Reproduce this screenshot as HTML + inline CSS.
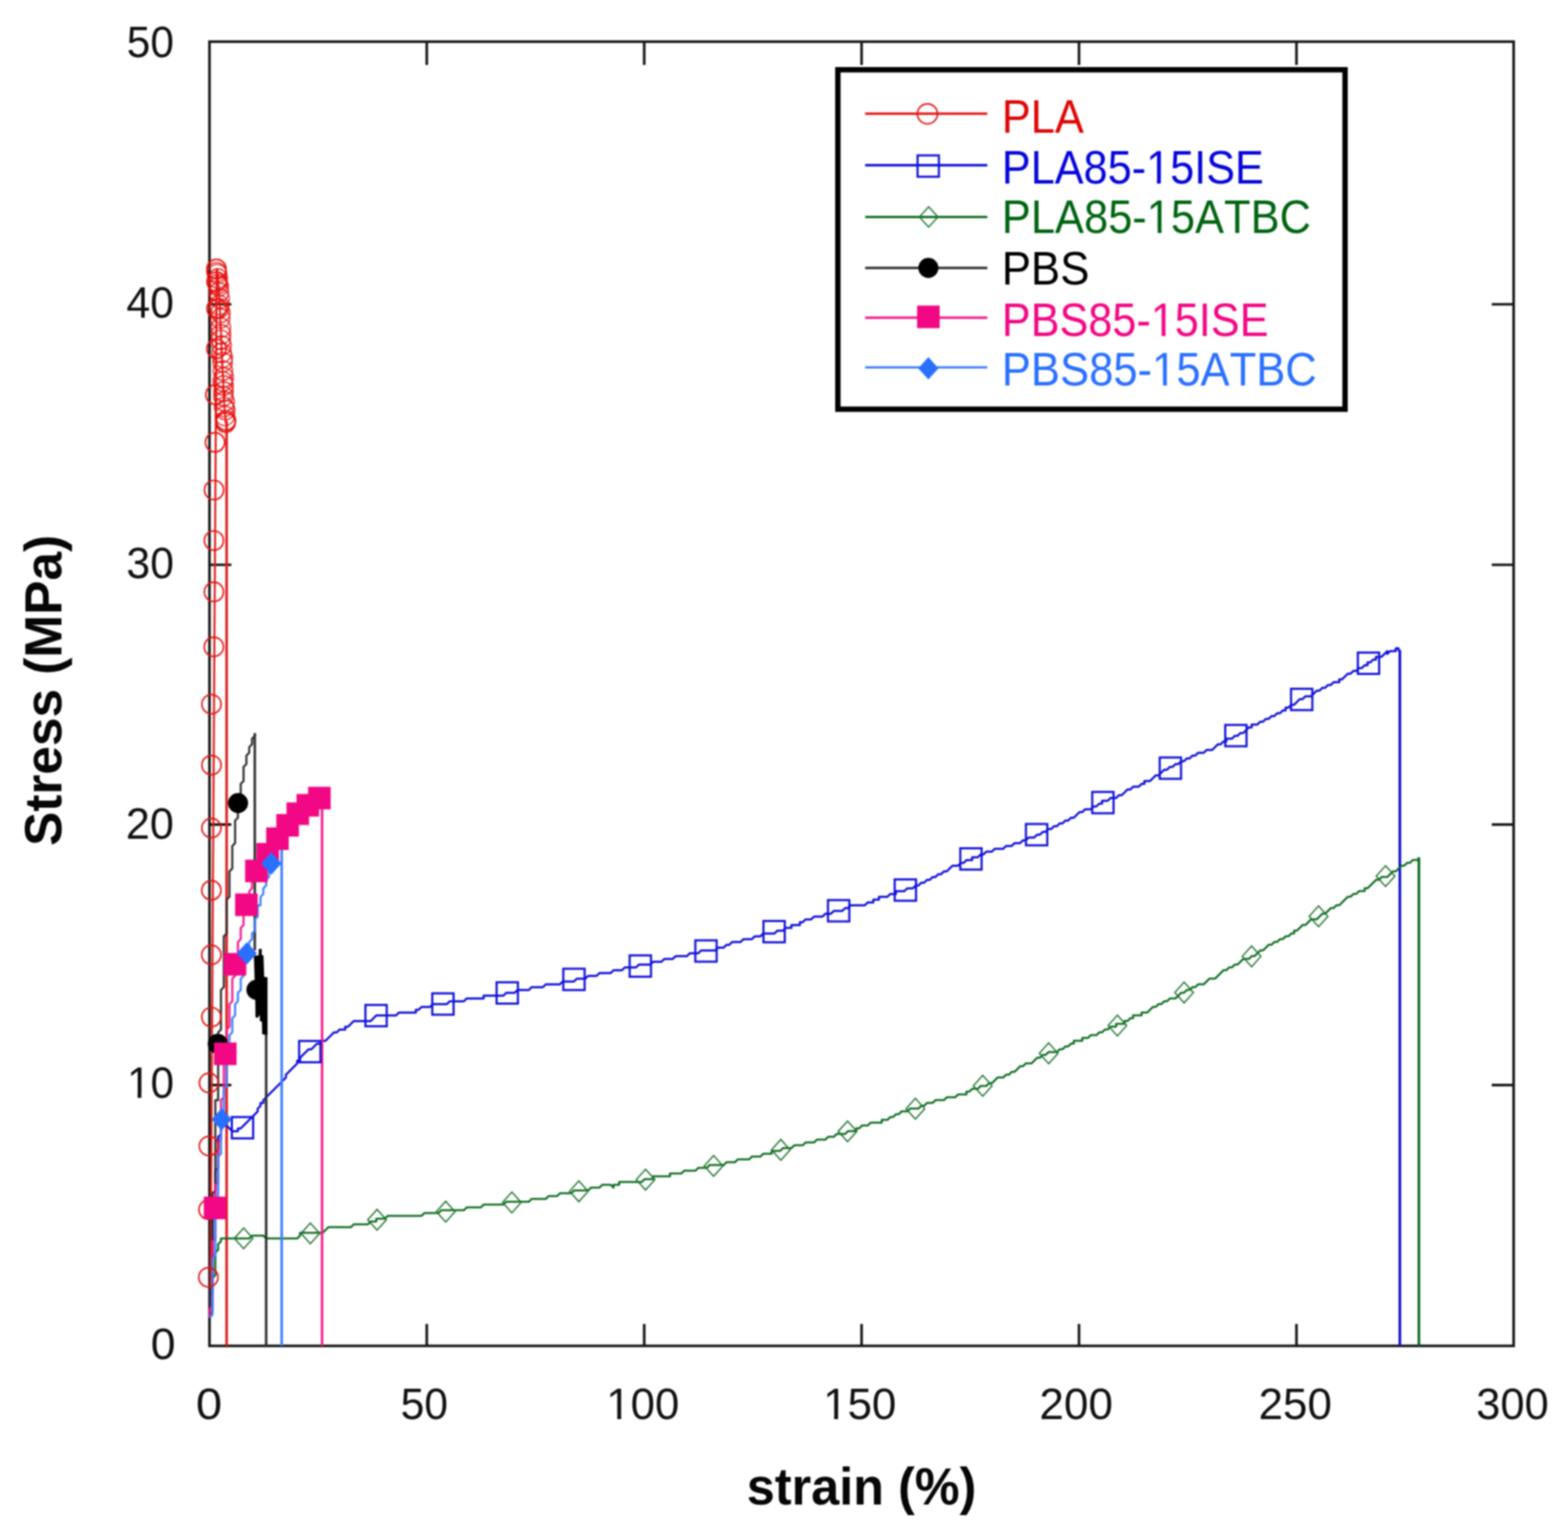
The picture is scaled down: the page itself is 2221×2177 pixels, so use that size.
<!DOCTYPE html>
<html lang="en">
<head>
<meta charset="utf-8">
<title>Stress–strain curves</title>
<style>
html,body{margin:0;padding:0;background:#ffffff;}
body{width:2221px;height:2177px;font-family:"Liberation Sans",Arial,sans-serif;}
svg{display:block;}
</style>
</head>
<body>
<svg width="2221" height="2177" viewBox="0 0 2221 2177">
<defs><filter id="soft" x="0" y="0" width="100%" height="100%" filterUnits="objectBoundingBox" color-interpolation-filters="sRGB"><feGaussianBlur stdDeviation="0.85"/></filter></defs>
<g filter="url(#soft)">
<rect x="0" y="0" width="2221" height="2177" fill="#ffffff"/>
<g id="axes" stroke="#161616" stroke-width="3.7" fill="none" stroke-linecap="butt">
<rect x="296.7" y="59" width="1847.3" height="1847.3"/>
<path d="M604.5 1906.3 V1875.3 M604.5 59 V92 M912.5 1906.3 V1875.3 M912.5 59 V92 M1220.4 1906.3 V1875.3 M1220.4 59 V92 M1528.4 1906.3 V1875.3 M1528.4 59 V92 M1836.4 1906.3 V1875.3 M1836.4 59 V92 M296.7 1536.9 H327.7 M2144 1536.9 H2113 M296.7 1167.9 H327.7 M2144 1167.9 H2113 M296.7 800 H327.7 M2144 800 H2113 M296.7 431 H327.7 M2144 431 H2113"/>
</g>
<g id="ticklabels" font-family="'Liberation Sans', Arial, sans-serif" style="font-kerning:none">
<g transform="translate(277.4 2009.7) scale(1.0560 1.0000)"><text font-size="63.2" fill="#111111">0</text></g>
<g transform="translate(567.4 2009.7) scale(0.9555 1.0000)"><text font-size="63.2" fill="#111111">50</text></g>
<g transform="translate(858.8 2009.7) scale(0.9800 1.0000)"><text font-size="63.2" fill="#111111">100</text><path d="M3.13 -5.82H15.84V1.50H3.13ZM21.53 -5.82H33.75V1.50H21.53Z" fill="#ffffff"/></g>
<g transform="translate(1165.9 2009.7) scale(0.9841 1.0000)"><text font-size="63.2" fill="#111111">150</text><path d="M3.13 -5.82H15.84V1.50H3.13ZM21.53 -5.82H33.75V1.50H21.53Z" fill="#ffffff"/></g>
<g transform="translate(1472.3 2009.7) scale(0.9874 1.0000)"><text font-size="63.2" fill="#111111">200</text></g>
<g transform="translate(1782.7 2009.7) scale(0.9854 1.0000)"><text font-size="63.2" fill="#111111">250</text></g>
<g transform="translate(2091.1 2009.7) scale(0.9723 1.0000)"><text font-size="63.2" fill="#111111">300</text></g>
<g transform="translate(179.5 80.6) scale(0.9509 1.0000)"><text font-size="63.2" fill="#111111">50</text></g>
<g transform="translate(179.1 449.8) scale(0.9569 1.0000)"><text font-size="63.2" fill="#111111">40</text></g>
<g transform="translate(179 819.3) scale(0.9585 1.0000)"><text font-size="63.2" fill="#111111">30</text></g>
<g transform="translate(178.3 1188.4) scale(0.9679 1.0000)"><text font-size="63.2" fill="#111111">20</text></g>
<g transform="translate(179.9 1554.8) scale(0.9457 1.0000)"><text font-size="63.2" fill="#111111">10</text><path d="M3.13 -5.82H15.84V1.50H3.13ZM21.53 -5.82H33.75V1.50H21.53Z" fill="#ffffff"/></g>
<g transform="translate(213.5 1924.7) scale(0.9993 1.0000)"><text font-size="63.2" fill="#111111">0</text></g>
</g>
<g id="titles" font-family="'Liberation Sans', Arial, sans-serif" style="font-kerning:none">
<g transform="translate(1057.7 2130.6) scale(0.9782 1.0100)"><text font-size="73" font-weight="bold" fill="#060606">strain (%)</text></g>
<text transform="translate(87.3 1198.3) rotate(-90) scale(0.9967 1.02)" font-size="73" font-weight="bold" fill="#060606">Stress (MPa)</text>
</g>
<g id="series-lines">
<path d="M297.8 1866 L298.1 1827.9 L298.3 1789.8 L298.6 1751.7 L298.8 1713.6 L299 1675.5 L299.3 1637.4 L299.5 1599.3 L299.7 1561.2 L300 1523.1 L300.2 1485 L300.4 1446.9 L300.7 1408.8 L300.9 1370.7 L301.1 1332.6 L301.4 1294.5 L301.6 1256.4 L301.8 1218.3 L302.1 1180.2 L302.3 1142.1 L302.5 1103.9 L302.8 1065.8 L303 1027.7 L303.2 989.6 L303.5 951.5 L303.7 913.4 L303.9 875.3 L304.2 837.2 L304.4 799.1 L304.7 761 L304.9 722.9 L305.1 684.8 L305.4 646.7 L305.6 608.6 L305.8 570.5 L306.1 532.4 L306.3 494.3 L306.5 456.2 L306.8 418.1 L307 380" fill="none" stroke="#e21a18" stroke-width="2.8" stroke-linejoin="round" />
<path d="M306.6 380 L307.2 380.7 L307.7 381.9 L308.1 394.3 L308.6 389.8 L309 402.4 L309.4 405.1 L309.8 405.9 L310.2 419.1 L310.5 417.9 L310.9 430.7 L311.3 431.6 L311.6 438.9 L312 451.2 L312.3 464.8 L312.7 460.8 L313 469.8 L313.4 483.6 L313.7 496.2 L314 497.6 L314.4 502.1 L314.7 518.8 L315 511.1 L315.3 531.3 L315.7 529.2 L316 533.8 L316.3 540.1 L316.6 549.6 L316.9 564 L317.3 559.9 L317.6 572.1 L317.9 578.4 L318.2 579.3 L318.5 586.8 L318.8 583.5 L319.1 587.4 L319.4 598 L321 600" fill="none" stroke="#e21a18" stroke-width="2.6" stroke-linejoin="round" />
<path d="M321 596 V1906.3" fill="none" stroke="#e21a18" stroke-width="3.6"/>
<path d="M297 1866.2 L297 1834.2 L301 1830.2 L301 1726.2 L305 1722.2 L305 1658.2 L309 1654.2 L309 1610.2 L313 1606.2 L313 1582.2 L317 1586.2 L317 1590.2 L329 1602.2 L337 1602.2 L337 1598.2 L341 1598.2 L365 1574.2 L365 1570.2 L369 1566.2 L369 1562.2 L373 1562.2 L373 1558.2 L405 1526.2 L405 1522.2 L421 1506.2 L421 1502.2 L425 1502.2 L425 1498.2 L437 1486.2 L441 1486.2 L449 1478.2 L453 1478.2 L457 1474.2 L461 1474.2 L473 1462.2 L477 1462.2 L481 1458.2 L489 1458.2 L489 1454.2 L493 1454.2 L501 1446.2 L525 1446.2 L533 1438.2 L561 1438.2 L565 1434.2 L589 1434.2 L589 1430.2 L593 1430.2 L597 1426.2 L609 1426.2 L613 1422.2 L633 1422.2 L637 1418.2 L657 1418.2 L661 1414.2 L685 1414.2 L685 1410.2 L713 1410.2 L717 1406.2 L729 1406.2 L733 1402.2 L749 1402.2 L753 1398.2 L769 1398.2 L773 1394.2 L793 1394.2 L797 1390.2 L813 1390.2 L817 1386.2 L829 1386.2 L833 1382.2 L845 1382.2 L849 1378.2 L865 1378.2 L869 1374.2 L881 1374.2 L885 1370.2 L901 1370.2 L905 1366.2 L921 1366.2 L925 1362.2 L937 1362.2 L941 1358.2 L953 1358.2 L957 1354.2 L973 1354.2 L977 1350.2 L989 1350.2 L993 1346.2 L1013 1346.2 L1017 1342.2 L1025 1342.2 L1029 1338.2 L1033 1338.2 L1037 1334.2 L1049 1334.2 L1053 1330.2 L1065 1330.2 L1069 1326.2 L1077 1326.2 L1081 1322.2 L1097 1322.2 L1101 1318.2 L1109 1318.2 L1113 1314.2 L1121 1314.2 L1121 1310.2 L1133 1310.2 L1133 1306.2 L1137 1306.2 L1141 1302.2 L1149 1302.2 L1153 1298.2 L1165 1298.2 L1169 1294.2 L1177 1294.2 L1181 1290.2 L1193 1290.2 L1197 1286.2 L1201 1286.2 L1205 1282.2 L1225 1282.2 L1229 1278.2 L1237 1278.2 L1237 1274.2 L1245 1274.2 L1245 1270.2 L1257 1270.2 L1261 1266.2 L1269 1266.2 L1269 1262.2 L1281 1262.2 L1285 1258.2 L1293 1258.2 L1297 1254.2 L1301 1254.2 L1305 1250.2 L1309 1250.2 L1313 1246.2 L1317 1246.2 L1321 1242.2 L1325 1242.2 L1329 1238.2 L1333 1238.2 L1337 1234.2 L1341 1234.2 L1349 1226.2 L1357 1226.2 L1361 1222.2 L1365 1222.2 L1369 1218.2 L1377 1218.2 L1377 1214.2 L1385 1214.2 L1389 1210.2 L1393 1210.2 L1397 1206.2 L1405 1206.2 L1409 1202.2 L1421 1202.2 L1425 1198.2 L1433 1198.2 L1437 1194.2 L1445 1194.2 L1449 1190.2 L1453 1190.2 L1457 1186.2 L1465 1186.2 L1469 1182.2 L1473 1182.2 L1477 1178.2 L1481 1178.2 L1485 1174.2 L1489 1174.2 L1493 1170.2 L1497 1170.2 L1501 1166.2 L1505 1166.2 L1509 1162.2 L1513 1162.2 L1517 1158.2 L1521 1158.2 L1529 1150.2 L1533 1150.2 L1537 1146.2 L1545 1146.2 L1549 1142.2 L1553 1142.2 L1557 1138.2 L1561 1138.2 L1561 1134.2 L1569 1134.2 L1573 1130.2 L1581 1130.2 L1585 1126.2 L1589 1126.2 L1597 1118.2 L1601 1118.2 L1605 1114.2 L1613 1114.2 L1617 1110.2 L1621 1110.2 L1621 1106.2 L1629 1106.2 L1637 1098.2 L1641 1098.2 L1649 1090.2 L1653 1090.2 L1657 1086.2 L1661 1086.2 L1665 1082.2 L1669 1082.2 L1673 1078.2 L1677 1078.2 L1681 1074.2 L1685 1074.2 L1689 1070.2 L1693 1070.2 L1697 1066.2 L1705 1066.2 L1709 1062.2 L1717 1062.2 L1725 1054.2 L1729 1054.2 L1733 1050.2 L1737 1050.2 L1737 1046.2 L1745 1046.2 L1749 1042.2 L1753 1042.2 L1757 1038.2 L1761 1038.2 L1769 1030.2 L1773 1030.2 L1773 1026.2 L1781 1026.2 L1785 1022.2 L1789 1022.2 L1793 1018.2 L1797 1018.2 L1801 1014.2 L1805 1014.2 L1809 1010.2 L1813 1010.2 L1817 1006.2 L1821 1006.2 L1821 1002.2 L1825 1002.2 L1829 998.2 L1833 998.2 L1841 990.2 L1845 990.2 L1849 986.2 L1857 986.2 L1865 978.2 L1869 978.2 L1873 974.2 L1877 974.2 L1881 970.2 L1885 970.2 L1889 966.2 L1897 966.2 L1897 962.2 L1901 962.2 L1909 954.2 L1913 954.2 L1917 950.2 L1921 950.2 L1925 946.2 L1929 946.2 L1933 942.2 L1937 942.2 L1937 938.2 L1941 938.2 L1945 934.2 L1949 934.2 L1949 930.2 L1957 930.2 L1965 922.2 L1965 926.2 L1969 922.2 L1977 922.2 L1977 918.2 L1981 918.2 L1981 922.2" fill="none" stroke="#0c0cd8" stroke-width="3" stroke-linejoin="round"/>
<path d="M1982.8 920.5 V1906.3" fill="none" stroke="#0c0cd8" stroke-width="3.7"/>
<path d="M297 1866.2 L297 1862.2 L301 1858.2 L301 1810.2 L305 1806.2 L305 1774.2 L309 1770.2 L309 1762.2 L313 1758.2 L313 1754.2 L353 1754.2 L357 1750.2 L373 1750.2 L377 1754.2 L421 1754.2 L425 1750.2 L425 1746.2 L457 1746.2 L465 1738.2 L497 1738.2 L501 1734.2 L521 1734.2 L525 1730.2 L533 1730.2 L533 1726.2 L545 1726.2 L549 1722.2 L597 1722.2 L601 1718.2 L621 1718.2 L625 1714.2 L657 1714.2 L661 1710.2 L681 1710.2 L685 1706.2 L713 1706.2 L717 1702.2 L749 1702.2 L753 1698.2 L773 1698.2 L777 1694.2 L789 1694.2 L793 1690.2 L809 1690.2 L813 1686.2 L833 1686.2 L837 1682.2 L849 1682.2 L853 1678.2 L865 1678.2 L869 1682.2 L869 1678.2 L877 1678.2 L877 1674.2 L909 1674.2 L913 1670.2 L925 1670.2 L925 1666.2 L949 1666.2 L949 1662.2 L965 1662.2 L969 1658.2 L985 1658.2 L989 1654.2 L1001 1654.2 L1005 1650.2 L1025 1650.2 L1029 1646.2 L1041 1646.2 L1045 1642.2 L1061 1642.2 L1065 1638.2 L1077 1638.2 L1081 1634.2 L1093 1634.2 L1093 1630.2 L1105 1630.2 L1109 1626.2 L1121 1626.2 L1125 1622.2 L1137 1622.2 L1141 1618.2 L1153 1618.2 L1157 1614.2 L1169 1614.2 L1173 1610.2 L1181 1610.2 L1185 1606.2 L1197 1606.2 L1201 1602.2 L1213 1602.2 L1213 1598.2 L1217 1598.2 L1221 1594.2 L1229 1594.2 L1233 1590.2 L1249 1590.2 L1249 1586.2 L1257 1586.2 L1261 1582.2 L1265 1582.2 L1269 1578.2 L1273 1578.2 L1277 1574.2 L1285 1574.2 L1289 1570.2 L1301 1570.2 L1305 1566.2 L1309 1566.2 L1313 1562.2 L1321 1562.2 L1325 1558.2 L1337 1558.2 L1341 1554.2 L1353 1554.2 L1357 1550.2 L1369 1550.2 L1369 1546.2 L1373 1546.2 L1377 1542.2 L1385 1542.2 L1389 1538.2 L1397 1538.2 L1401 1534.2 L1405 1534.2 L1413 1526.2 L1421 1526.2 L1425 1522.2 L1429 1522.2 L1433 1518.2 L1437 1518.2 L1445 1510.2 L1449 1510.2 L1453 1506.2 L1461 1506.2 L1469 1498.2 L1473 1498.2 L1477 1494.2 L1481 1494.2 L1485 1490.2 L1497 1490.2 L1501 1486.2 L1505 1486.2 L1509 1482.2 L1513 1482.2 L1517 1478.2 L1521 1478.2 L1521 1474.2 L1533 1474.2 L1533 1470.2 L1541 1470.2 L1545 1466.2 L1553 1466.2 L1557 1462.2 L1561 1462.2 L1565 1458.2 L1569 1458.2 L1573 1454.2 L1581 1454.2 L1581 1450.2 L1593 1450.2 L1593 1446.2 L1597 1446.2 L1601 1442.2 L1605 1442.2 L1605 1438.2 L1617 1438.2 L1617 1434.2 L1625 1434.2 L1633 1426.2 L1637 1426.2 L1641 1422.2 L1645 1422.2 L1649 1418.2 L1653 1418.2 L1657 1414.2 L1665 1414.2 L1673 1406.2 L1677 1406.2 L1681 1402.2 L1685 1402.2 L1689 1398.2 L1693 1398.2 L1697 1394.2 L1705 1394.2 L1713 1386.2 L1721 1386.2 L1733 1374.2 L1737 1374.2 L1741 1370.2 L1745 1370.2 L1749 1366.2 L1753 1366.2 L1761 1358.2 L1769 1358.2 L1773 1354.2 L1777 1354.2 L1785 1346.2 L1789 1346.2 L1797 1338.2 L1801 1338.2 L1805 1334.2 L1809 1334.2 L1813 1330.2 L1817 1330.2 L1821 1326.2 L1825 1326.2 L1829 1322.2 L1833 1322.2 L1833 1318.2 L1837 1318.2 L1845 1310.2 L1849 1310.2 L1857 1302.2 L1865 1302.2 L1873 1294.2 L1877 1294.2 L1885 1286.2 L1889 1286.2 L1893 1282.2 L1897 1282.2 L1909 1270.2 L1913 1270.2 L1917 1266.2 L1921 1266.2 L1925 1262.2 L1933 1262.2 L1933 1258.2 L1937 1258.2 L1949 1246.2 L1953 1246.2 L1957 1242.2 L1965 1242.2 L1973 1234.2 L1977 1234.2 L1985 1226.2 L1989 1226.2 L1993 1222.2 L1997 1222.2 L2001 1218.2 L2009 1218.2 L2009 1214.2" fill="none" stroke="#0a6a1c" stroke-width="2.8" stroke-linejoin="round"/>
<path d="M2009.8 1214.5 V1906.3" fill="none" stroke="#0a6a1c" stroke-width="3.7"/>
<path d="M297 1866.2 L297 1826.2 L301 1822.2 L301 1690.2 L305 1686.2 L305 1558.2 L309 1558.2 L309 1462.2 L313 1458.2 L313 1402.2 L317 1398.2 L317 1326.2 L321 1322.2 L321 1274.2 L325 1270.2 L325 1234.2 L329 1230.2 L329 1198.2 L333 1194.2 L333 1162.2 L337 1158.2 L337 1130.2 L341 1126.2 L341 1110.2 L345 1106.2 L345 1086.2 L349 1082.2 L349 1070.2 L353 1066.2 L353 1058.2 L357 1054.2 L357 1046.2 L361 1042.2 L361 1038.2" fill="none" stroke="#303030" stroke-width="3" stroke-linejoin="round"/>
<path d="M360.9 1039 V1346" fill="none" stroke="#303030" stroke-width="3.5"/>
<path d="M377 1384 V1906.3" fill="none" stroke="#303030" stroke-width="3.6"/>
<path d="M366.6 1344 L370.6 1344 L370.8 1352.5 L373.2 1353.5 L374.2 1383.5 L378.8 1384.5 L378.8 1466 L371.4 1465 L371 1447 L368.2 1446.5 L367.9 1437.5 L365.4 1441.5 L361.9 1441 L361.6 1420 L359.6 1353.5 L366.4 1353.2Z" fill="#000000"/>
<path d="M297 1866.2 L297 1854.2 L301 1850.2 L301 1758.2 L305 1754.2 L305 1678.2 L309 1674.2 L309 1618.2 L313 1614.2 L313 1558.2 L317 1554.2 L317 1494.2 L321 1494.2 L321 1458.2 L325 1454.2 L325 1422.2 L329 1418.2 L329 1386.2 L333 1382.2 L333 1358.2 L337 1354.2 L337 1334.2 L341 1330.2 L341 1314.2 L345 1310.2 L345 1294.2 L349 1290.2 L349 1278.2 L353 1274.2 L353 1262.2 L357 1258.2 L357 1250.2 L361 1246.2 L361 1238.2 L365 1234.2 L365 1230.2 L369 1226.2 L369 1222.2 L381 1210.2 L381 1206.2 L385 1202.2 L385 1198.2 L393 1190.2 L393 1186.2 L405 1174.2 L405 1170.2 L409 1170.2 L409 1166.2 L433 1142.2 L437 1142.2 L437 1138.2 L441 1138.2 L445 1134.2 L449 1134.2 L453 1130.2 L457 1130.2" fill="none" stroke="#f31c8c" stroke-width="3" stroke-linejoin="round"/>
<path d="M456.2 1129 V1906.3" fill="none" stroke="#f31c8c" stroke-width="3.5"/>
<path d="M297 1866.2 L301 1862.2 L301 1782.2 L305 1778.2 L305 1702.2 L309 1698.2 L309 1638.2 L313 1634.2 L313 1582.2 L317 1578.2 L317 1542.2 L321 1538.2 L321 1502.2 L325 1498.2 L325 1466.2 L329 1462.2 L329 1442.2 L333 1438.2 L333 1422.2 L337 1418.2 L337 1406.2 L341 1402.2 L341 1386.2 L345 1382.2 L345 1366.2 L349 1362.2 L349 1346.2 L353 1342.2 L353 1334.2 L357 1330.2 L357 1322.2 L361 1318.2 L361 1302.2 L365 1298.2 L365 1282.2 L369 1282.2 L369 1270.2 L373 1266.2 L373 1258.2 L377 1254.2 L377 1246.2 L381 1242.2 L381 1230.2 L385 1226.2 L385 1218.2 L389 1214.2 L389 1206.2 L393 1202.2 L393 1198.2 L401 1190.2" fill="none" stroke="#3f80ff" stroke-width="3" stroke-linejoin="round"/>
<path d="M399 1191 V1906.3" fill="none" stroke="#3f80ff" stroke-width="3.7"/>
</g>
<g id="series-markers">
<ellipse cx="295.2" cy="1809.2" rx="13.6" ry="13.6" fill="none" stroke="#e41210" stroke-width="2.2"/>
<ellipse cx="295.4" cy="1713.3" rx="13.6" ry="13.6" fill="none" stroke="#e41210" stroke-width="2.2"/>
<ellipse cx="295.9" cy="1623.2" rx="13.6" ry="13.6" fill="none" stroke="#e41210" stroke-width="2.2"/>
<ellipse cx="296" cy="1533.8" rx="13.6" ry="13.6" fill="none" stroke="#e41210" stroke-width="2.2"/>
<ellipse cx="299.4" cy="1440.6" rx="13.6" ry="13.6" fill="none" stroke="#e41210" stroke-width="2.2"/>
<ellipse cx="299.4" cy="1352.4" rx="13.6" ry="13.6" fill="none" stroke="#e41210" stroke-width="2.2"/>
<ellipse cx="299.4" cy="1261" rx="13.6" ry="13.6" fill="none" stroke="#e41210" stroke-width="2.2"/>
<ellipse cx="299.5" cy="1172.8" rx="13.6" ry="13.6" fill="none" stroke="#e41210" stroke-width="2.2"/>
<ellipse cx="299.6" cy="1083.7" rx="13.6" ry="13.6" fill="none" stroke="#e41210" stroke-width="2.2"/>
<ellipse cx="299.6" cy="997.4" rx="13.6" ry="13.6" fill="none" stroke="#e41210" stroke-width="2.2"/>
<ellipse cx="302.9" cy="916.2" rx="13.6" ry="13.6" fill="none" stroke="#e41210" stroke-width="2.2"/>
<ellipse cx="303" cy="838.3" rx="13.6" ry="13.6" fill="none" stroke="#e41210" stroke-width="2.2"/>
<ellipse cx="303" cy="765.6" rx="13.6" ry="13.6" fill="none" stroke="#e41210" stroke-width="2.2"/>
<ellipse cx="303.2" cy="694.1" rx="13.6" ry="13.6" fill="none" stroke="#e41210" stroke-width="2.2"/>
<ellipse cx="304.6" cy="626.5" rx="13.6" ry="13.6" fill="none" stroke="#e41210" stroke-width="2.2"/>
<ellipse cx="305.1" cy="559" rx="13.6" ry="13.6" fill="none" stroke="#e41210" stroke-width="2.2"/>
<ellipse cx="306.6" cy="494" rx="13.6" ry="13.6" fill="none" stroke="#e41210" stroke-width="2.2"/>
<ellipse cx="306.8" cy="437" rx="13.6" ry="13.6" fill="none" stroke="#e41210" stroke-width="2.2"/>
<ellipse cx="306.8" cy="399" rx="13.6" ry="13.6" fill="none" stroke="#e41210" stroke-width="2.2"/>
<ellipse cx="306.6" cy="381" rx="13.6" ry="13.6" fill="none" stroke="#e41210" stroke-width="2.2"/>
<ellipse cx="306.6" cy="385.4" rx="13.6" ry="13.6" fill="none" stroke="#e41210" stroke-width="1.6"/>
<ellipse cx="307.7" cy="388.1" rx="13.6" ry="13.6" fill="none" stroke="#e41210" stroke-width="1.6"/>
<ellipse cx="308.6" cy="394.5" rx="13.6" ry="13.6" fill="none" stroke="#e41210" stroke-width="1.6"/>
<ellipse cx="308.4" cy="402.5" rx="13.6" ry="13.6" fill="none" stroke="#e41210" stroke-width="1.6"/>
<ellipse cx="309.9" cy="405.7" rx="13.6" ry="13.6" fill="none" stroke="#e41210" stroke-width="1.6"/>
<ellipse cx="310" cy="414.3" rx="13.6" ry="13.6" fill="none" stroke="#e41210" stroke-width="1.6"/>
<ellipse cx="311.2" cy="422.9" rx="13.6" ry="13.6" fill="none" stroke="#e41210" stroke-width="1.6"/>
<ellipse cx="310.3" cy="432.1" rx="13.6" ry="13.6" fill="none" stroke="#e41210" stroke-width="1.6"/>
<ellipse cx="310.3" cy="436.7" rx="13.6" ry="13.6" fill="none" stroke="#e41210" stroke-width="1.6"/>
<ellipse cx="312.2" cy="443.3" rx="13.6" ry="13.6" fill="none" stroke="#e41210" stroke-width="1.6"/>
<ellipse cx="312" cy="451.1" rx="13.6" ry="13.6" fill="none" stroke="#e41210" stroke-width="1.6"/>
<ellipse cx="312.9" cy="464.1" rx="13.6" ry="13.6" fill="none" stroke="#e41210" stroke-width="1.6"/>
<ellipse cx="313.1" cy="473.5" rx="13.6" ry="13.6" fill="none" stroke="#e41210" stroke-width="1.6"/>
<ellipse cx="312.8" cy="481.3" rx="13.6" ry="13.6" fill="none" stroke="#e41210" stroke-width="1.6"/>
<ellipse cx="313.9" cy="489.5" rx="13.6" ry="13.6" fill="none" stroke="#e41210" stroke-width="1.6"/>
<ellipse cx="314" cy="499.9" rx="13.6" ry="13.6" fill="none" stroke="#e41210" stroke-width="1.6"/>
<ellipse cx="315.6" cy="506.6" rx="13.6" ry="13.6" fill="none" stroke="#e41210" stroke-width="1.6"/>
<ellipse cx="315.3" cy="512.9" rx="13.6" ry="13.6" fill="none" stroke="#e41210" stroke-width="1.6"/>
<ellipse cx="315.8" cy="525" rx="13.6" ry="13.6" fill="none" stroke="#e41210" stroke-width="1.6"/>
<ellipse cx="316.9" cy="534.5" rx="13.6" ry="13.6" fill="none" stroke="#e41210" stroke-width="1.6"/>
<ellipse cx="315.5" cy="540.2" rx="13.6" ry="13.6" fill="none" stroke="#e41210" stroke-width="1.6"/>
<ellipse cx="316.8" cy="546" rx="13.6" ry="13.6" fill="none" stroke="#e41210" stroke-width="1.6"/>
<ellipse cx="316.7" cy="554.5" rx="13.6" ry="13.6" fill="none" stroke="#e41210" stroke-width="1.6"/>
<ellipse cx="316.3" cy="561.2" rx="13.6" ry="13.6" fill="none" stroke="#e41210" stroke-width="1.6"/>
<ellipse cx="318.2" cy="568.5" rx="13.6" ry="13.6" fill="none" stroke="#e41210" stroke-width="1.6"/>
<ellipse cx="317.3" cy="576.6" rx="13.6" ry="13.6" fill="none" stroke="#e41210" stroke-width="1.6"/>
<ellipse cx="319.2" cy="580.7" rx="13.6" ry="13.6" fill="none" stroke="#e41210" stroke-width="1.6"/>
<ellipse cx="318.5" cy="589.1" rx="13.6" ry="13.6" fill="none" stroke="#e41210" stroke-width="1.6"/>
<ellipse cx="320" cy="595.6" rx="13.6" ry="13.6" fill="none" stroke="#e41210" stroke-width="2.2"/>
<ellipse cx="319.6" cy="598.5" rx="13.6" ry="13.6" fill="none" stroke="#e41210" stroke-width="2.2"/>
<rect x="328.4" y="1582.2" width="30.2" height="30.2" fill="none" stroke="#1010da" stroke-width="3"/>
<rect x="423.7" y="1474.4" width="30.2" height="30.2" fill="none" stroke="#1010da" stroke-width="3"/>
<rect x="517.6" y="1423.4" width="30.2" height="30.2" fill="none" stroke="#1010da" stroke-width="3"/>
<rect x="612.3" y="1407" width="30.2" height="30.2" fill="none" stroke="#1010da" stroke-width="3"/>
<rect x="703.4" y="1391.3" width="30.2" height="30.2" fill="none" stroke="#1010da" stroke-width="3"/>
<rect x="797.9" y="1372.1" width="30.2" height="30.2" fill="none" stroke="#1010da" stroke-width="3"/>
<rect x="891.9" y="1353.2" width="30.2" height="30.2" fill="none" stroke="#1010da" stroke-width="3"/>
<rect x="984.9" y="1331.9" width="30.2" height="30.2" fill="none" stroke="#1010da" stroke-width="3"/>
<rect x="1081.4" y="1304.5" width="30.2" height="30.2" fill="none" stroke="#1010da" stroke-width="3"/>
<rect x="1172.8" y="1274.9" width="30.2" height="30.2" fill="none" stroke="#1010da" stroke-width="3"/>
<rect x="1267.3" y="1245.6" width="30.2" height="30.2" fill="none" stroke="#1010da" stroke-width="3"/>
<rect x="1360.2" y="1201.5" width="30.2" height="30.2" fill="none" stroke="#1010da" stroke-width="3"/>
<rect x="1453.2" y="1167.1" width="30.2" height="30.2" fill="none" stroke="#1010da" stroke-width="3"/>
<rect x="1547.1" y="1121.7" width="30.2" height="30.2" fill="none" stroke="#1010da" stroke-width="3"/>
<rect x="1642.7" y="1072.9" width="30.2" height="30.2" fill="none" stroke="#1010da" stroke-width="3"/>
<rect x="1735.5" y="1026.8" width="30.2" height="30.2" fill="none" stroke="#1010da" stroke-width="3"/>
<rect x="1828.7" y="975.6" width="30.2" height="30.2" fill="none" stroke="#1010da" stroke-width="3"/>
<rect x="1923.3" y="924.3" width="30.2" height="30.2" fill="none" stroke="#1010da" stroke-width="3"/>
<path d="M331.9 1754 L345.1 1739.3 L358.3 1754 L345.1 1768.7Z" fill="none" stroke="#1f7530" stroke-width="1.9" stroke-linejoin="miter"/>
<path d="M426.4 1747 L439.6 1732.3 L452.8 1747 L439.6 1761.7Z" fill="none" stroke="#1f7530" stroke-width="1.9" stroke-linejoin="miter"/>
<path d="M520.9 1727.7 L534.1 1713 L547.3 1727.7 L534.1 1742.4Z" fill="none" stroke="#1f7530" stroke-width="1.9" stroke-linejoin="miter"/>
<path d="M618.1 1716.2 L631.3 1701.5 L644.5 1716.2 L631.3 1730.9Z" fill="none" stroke="#1f7530" stroke-width="1.9" stroke-linejoin="miter"/>
<path d="M711.8 1703.1 L725 1688.4 L738.2 1703.1 L725 1717.8Z" fill="none" stroke="#1f7530" stroke-width="1.9" stroke-linejoin="miter"/>
<path d="M806.7 1687.3 L819.9 1672.6 L833.1 1687.3 L819.9 1702Z" fill="none" stroke="#1f7530" stroke-width="1.9" stroke-linejoin="miter"/>
<path d="M901.2 1670.8 L914.4 1656.1 L927.6 1670.8 L914.4 1685.5Z" fill="none" stroke="#1f7530" stroke-width="1.9" stroke-linejoin="miter"/>
<path d="M997.6 1651.4 L1010.8 1636.7 L1024 1651.4 L1010.8 1666.1Z" fill="none" stroke="#1f7530" stroke-width="1.9" stroke-linejoin="miter"/>
<path d="M1092.8 1628.7 L1106 1614 L1119.2 1628.7 L1106 1643.4Z" fill="none" stroke="#1f7530" stroke-width="1.9" stroke-linejoin="miter"/>
<path d="M1187.3 1602.5 L1200.5 1587.8 L1213.7 1602.5 L1200.5 1617.2Z" fill="none" stroke="#1f7530" stroke-width="1.9" stroke-linejoin="miter"/>
<path d="M1283.4 1570.4 L1296.6 1555.7 L1309.8 1570.4 L1296.6 1585.1Z" fill="none" stroke="#1f7530" stroke-width="1.9" stroke-linejoin="miter"/>
<path d="M1378.8 1537.9 L1392 1523.2 L1405.2 1537.9 L1392 1552.6Z" fill="none" stroke="#1f7530" stroke-width="1.9" stroke-linejoin="miter"/>
<path d="M1472.2 1491.9 L1485.4 1477.2 L1498.6 1491.9 L1485.4 1506.6Z" fill="none" stroke="#1f7530" stroke-width="1.9" stroke-linejoin="miter"/>
<path d="M1569.5 1452.6 L1582.7 1437.9 L1595.9 1452.6 L1582.7 1467.3Z" fill="none" stroke="#1f7530" stroke-width="1.9" stroke-linejoin="miter"/>
<path d="M1664 1405.8 L1677.2 1391.1 L1690.4 1405.8 L1677.2 1420.5Z" fill="none" stroke="#1f7530" stroke-width="1.9" stroke-linejoin="miter"/>
<path d="M1759.6 1354.6 L1772.8 1339.9 L1786 1354.6 L1772.8 1369.3Z" fill="none" stroke="#1f7530" stroke-width="1.9" stroke-linejoin="miter"/>
<path d="M1854.5 1297.9 L1867.7 1283.2 L1880.9 1297.9 L1867.7 1312.6Z" fill="none" stroke="#1f7530" stroke-width="1.9" stroke-linejoin="miter"/>
<path d="M1949.4 1240.9 L1962.6 1226.2 L1975.8 1240.9 L1962.6 1255.6Z" fill="none" stroke="#1f7530" stroke-width="1.9" stroke-linejoin="miter"/>
<circle cx="308.5" cy="1478.5" r="14.2" fill="#000000"/>
<circle cx="337.2" cy="1137.5" r="14.2" fill="#000000"/>
<circle cx="363.2" cy="1402" r="14.2" fill="#000000"/>
<rect x="288.6" y="1694.9" width="32" height="32" fill="#f20884"/>
<rect x="303.1" y="1476.6" width="32" height="32" fill="#f20884"/>
<rect x="316.8" y="1349.8" width="32" height="32" fill="#f20884"/>
<rect x="333" y="1265.5" width="32" height="32" fill="#f20884"/>
<rect x="347.2" y="1217.6" width="32" height="32" fill="#f20884"/>
<rect x="363.2" y="1194" width="32" height="32" fill="#f20884"/>
<rect x="377" y="1171.9" width="32" height="32" fill="#f20884"/>
<rect x="391.4" y="1153" width="32" height="32" fill="#f20884"/>
<rect x="405.8" y="1136.5" width="32" height="32" fill="#f20884"/>
<rect x="420" y="1124.6" width="32" height="32" fill="#f20884"/>
<rect x="436.4" y="1114.4" width="32" height="32" fill="#f20884"/>
<path d="M299.7 1585.4 L314 1569.5 L328.3 1585.4 L314 1601.3Z" fill="#2a70ff"/>
<path d="M335.3 1350.3 L349.6 1334.4 L363.9 1350.3 L349.6 1366.2Z" fill="#2a70ff"/>
<path d="M370 1223 L384.3 1207.1 L398.6 1223 L384.3 1238.9Z" fill="#2a70ff"/>
</g>
<g id="legend">
<rect x="1186.8" y="98.8" width="718.4" height="480.8" fill="#ffffff" stroke="#000000" stroke-width="7.6"/>
<g font-family="'Liberation Sans', Arial, sans-serif" style="font-kerning:none">
<path d="M1225.5 161 H1398.5" stroke="#e21a18" stroke-width="3.3" fill="none"/>
<ellipse cx="1313.7" cy="161.3" rx="14.2" ry="14.2" fill="none" stroke="#e41210" stroke-width="2.2"/>
<g transform="translate(1419.1 187.6) scale(0.9511 1.0200)"><text font-size="64.6" fill="#dd0806">PLA</text></g>
<path d="M1225.5 234 H1398.5" stroke="#0c0cd8" stroke-width="3.3" fill="none"/>
<rect x="1299.7" y="220.1" width="30.2" height="30.2" fill="none" stroke="#1010da" stroke-width="3"/>
<g transform="translate(1419.1 260.4) scale(0.9481 1.0200)"><text font-size="64.6" fill="#0606da">PLA85-15ISE</text><path d="M218.70 -5.93H231.66V1.50H218.70ZM237.47 -5.93H249.93V1.50H237.47Z" fill="#ffffff"/></g>
<path d="M1225.5 307.3 H1398.5" stroke="#0a6a1c" stroke-width="3.3" fill="none"/>
<path d="M1302.2 307.3 L1315.4 292.9 L1328.6 307.3 L1315.4 321.7Z" fill="none" stroke="#1f7530" stroke-width="1.9" stroke-linejoin="miter"/>
<g transform="translate(1419.1 329.9) scale(0.9527 1.0200)"><text font-size="64.6" fill="#006411">PLA85-15ATBC</text><path d="M218.70 -5.93H231.66V1.50H218.70ZM237.47 -5.93H249.93V1.50H237.47Z" fill="#ffffff"/></g>
<path d="M1225.5 379.5 H1398.5" stroke="#303030" stroke-width="3.3" fill="none"/>
<circle cx="1315" cy="379.5" r="14.2" fill="#000000"/>
<g transform="translate(1419 403.2) scale(0.9602 1.0200)"><text font-size="64.6" fill="#000000">PBS</text></g>
<path d="M1225.5 450 H1398.5" stroke="#f31c8c" stroke-width="3.3" fill="none"/>
<rect x="1299" y="432.8" width="32" height="32" fill="#f20884"/>
<g transform="translate(1419.1 475.8) scale(0.9477 1.0200)"><text font-size="64.6" fill="#f20884">PBS85-15ISE</text><path d="M225.86 -5.93H238.82V1.50H225.86ZM244.63 -5.93H257.09V1.50H244.63Z" fill="#ffffff"/></g>
<path d="M1225.5 520.3 H1398.5" stroke="#3f80ff" stroke-width="3.3" fill="none"/>
<path d="M1300.7 521.7 L1315 505.8 L1329.3 521.7 L1315 537.6Z" fill="#2a70ff"/>
<g transform="translate(1419.1 546.1) scale(0.9558 1.0200)"><text font-size="64.6" fill="#2a70ff">PBS85-15ATBC</text><path d="M225.86 -5.93H238.82V1.50H225.86ZM244.63 -5.93H257.09V1.50H244.63Z" fill="#ffffff"/></g>
</g>
</g>
</g>
</svg>
</body>
</html>
